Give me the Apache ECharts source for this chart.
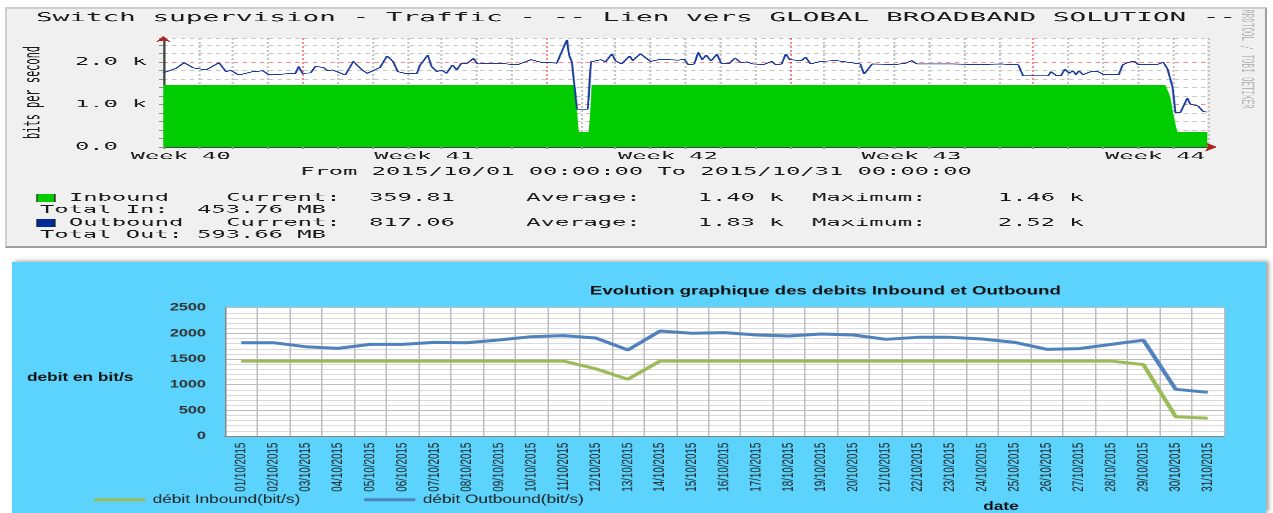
<!DOCTYPE html>
<html>
<head>
<meta charset="utf-8">
<script src="https://cdn.jsdelivr.net/npm/echarts@6/dist/echarts.min.js"></script>
<style>
html,body{margin:0;padding:0;background:#ffffff;width:1273px;height:513px;overflow:hidden;}
#topWrap{position:absolute;left:5px;top:7px;width:1262px;height:241px;overflow:hidden;}
#top{position:absolute;left:0;top:0;width:574px;height:241px;transform:scaleX(2.1986);transform-origin:0 0;}
#topBorder{position:absolute;left:0;top:0;width:1262px;height:241px;box-sizing:border-box;border-left:2px solid #cfcfcf;border-top:2px solid #cfcfcf;border-right:2px solid #9e9e9e;border-bottom:2px solid #9e9e9e;pointer-events:none;}
#botWrap{position:absolute;left:12px;top:262px;width:1254px;height:251px;overflow:hidden;box-shadow:3px -1px 4px rgba(0,0,0,0.35);}
#bot{position:absolute;left:0;top:0;width:836px;height:251px;transform:scaleX(1.5);transform-origin:0 0;}
</style>
</head>
<body>
<div id="topWrap"><div id="top"></div><div id="topBorder"></div></div>
<div id="botWrap"><div id="bot"></div></div>
<script>
// ---------- Top chart (RRDtool) data ----------
const topTitle = 'Switch supervision - Traffic - -- Lien vers GLOBAL BROADBAND SOLUTION --';
const periodText = 'From 2015/10/01 00:00:00 To 2015/10/31 00:00:00';
const yAxisNameTop = 'bits per second';
const watermark = 'RRDTOOL / TOBI OETIKER';
// days since 2015/10/01 00:00
const outDays = [0,0.37,0.6,0.86,1.23,1.6,1.71,1.8,1.94,2.17,
  2.57,2.86,3.03,3.37,3.8,3.89,4.0,4.23,4.37,4.6,
  4.71,4.86,5.23,5.46,5.71,5.86,6.23,6.43,6.6,6.74,
  6.94,7.29,7.37,7.6,7.71,7.86,8.0,8.14,8.31,8.43,
  8.57,8.71,8.91,9.03,9.6,10.17,10.57,10.86,11.31,11.43,
  11.51,11.6,11.66,11.74,11.89,12.2,12.29,12.57,12.71,12.89,
  13.0,13.17,13.4,13.49,13.71,14.0,14.29,14.46,14.8,14.97,
  15.09,15.26,15.37,15.49,15.6,15.74,15.91,16.03,16.26,16.43,
  16.6,16.77,16.94,17.06,17.26,17.49,17.6,17.77,17.89,18.0,
  18.17,18.34,18.46,18.6,18.89,19.11,19.34,19.51,19.86,20.03,
  20.14,20.26,20.37,21.03,21.31,21.51,21.66,22.46,22.51,22.66,
  23.43,24.09,24.57,24.71,25.43,25.51,25.66,25.8,25.91,26.03,
  26.14,26.23,26.31,26.43,26.66,26.74,26.86,27.03,27.46,27.57,
  27.71,27.89,28.03,28.57,28.74,28.86,29.0,29.09,29.23,29.43,
  29.51,29.6,29.74,29.86,29.89,30.0];
const outValues = [1740,1850,1980,1860,1810,1980,2000,1770,1800,1690,
  1770,1790,1700,1710,1730,1890,1730,1740,1890,1870,
  1800,1810,1690,2010,1810,1730,1870,2140,2010,1770,
  1730,1730,1910,2160,1890,1770,1810,1730,1930,1810,
  1970,1950,2080,1950,1970,1930,2050,1990,1970,2200,
  2240,2520,2160,2000,890,890,2000,2050,2000,2190,
  2020,1950,2140,2030,2190,2010,2060,2050,2040,2060,
  1930,1950,2220,2050,2160,2020,2180,1970,1960,2090,
  1980,2000,1950,1930,1940,2010,1930,1950,2190,2050,
  2040,2030,2110,1950,2010,2020,2030,2010,1970,1950,
  1710,1720,1950,1940,1960,2030,1950,1950,1990,1950,
  1940,1950,1930,1670,1670,1770,1680,1680,1830,1730,
  1790,1700,1790,1700,1770,1750,1770,1700,1700,1930,
  1980,2020,1930,1940,1990,1830,1420,800,810,1150,
  1010,980,960,960,830,820];
const inDays = [0,1.5,3,4.5,6,7.5,9,10.5,11.83,11.94,12.23,12.31,13.5,15,16.5,18,19.5,21,22.5,24,25.5,27,28.5,28.8,28.94,29.03,29.14,30];
const inValues = [1450,1460,1455,1460,1450,1460,1455,1460,1455,360,360,1455,1460,1450,1460,1455,1460,1450,1460,1455,1460,1450,1455,1455,1180,750,360,360];
const weekLabels = ['Week 40','Week 41','Week 42','Week 43','Week 44'];
const firstWeekStart = -3; // Monday 2015/09/28 relative to 10/01
const yTickValuesTop = [0,1000,2000];
const yTickLabelsTop = ['0.0  ','1.0 k','2.0 k'];
const legendNames = ['Inbound','Outbound'];
const legendColors = ['#00CC00','#002A97'];
const legendCurrent = ['359.81','817.06'];
const legendAverage = ['1.40 k','1.83 k'];
const legendMaximum = ['1.46 k','2.52 k'];
const totalLabels = ['Total In:','Total Out:'];
const totalValues = ['453.76 MB','593.66 MB'];

// ---------- Bottom chart (Excel) data ----------
const bottomTitle = 'Evolution graphique des debits Inbound et Outbound';
const bottomYName = 'debit en bit/s';
const bottomXName = 'date';
const dates = ['01/10/2015','02/10/2015','03/10/2015','04/10/2015','05/10/2015','06/10/2015','07/10/2015','08/10/2015','09/10/2015','10/10/2015',
  '11/10/2015','12/10/2015','13/10/2015','14/10/2015','15/10/2015','16/10/2015','17/10/2015','18/10/2015','19/10/2015','20/10/2015',
  '21/10/2015','22/10/2015','23/10/2015','24/10/2015','25/10/2015','26/10/2015','27/10/2015','28/10/2015','29/10/2015','30/10/2015','31/10/2015'];
const inboundDaily = [1460,1460,1460,1460,1460,1460,1460,1460,1460,1460,
  1460,1310,1105,1460,1460,1460,1460,1460,1460,1460,
  1460,1460,1460,1460,1460,1460,1460,1460,1390,376,345];
const outboundDaily = [1818,1818,1740,1708,1786,1786,1825,1818,1870,1935,
  1955,1910,1676,2046,2001,2014,1968,1949,1988,1968,
  1884,1923,1923,1890,1825,1689,1702,1786,1867,910,851];
const seriesNames = ['débit Inbound(bit/s)','débit Outbound(bit/s)'];
const seriesColors = ['#9BBB59','#4F81BD'];

// ================= TOP CHART =================
const MONO = 'DejaVu Sans Mono';
const TXT = '#1a1a1a';
const GRAY = '#c6c6c6';
const RED = 'rgba(235,0,0,0.45)';

function weekFormatter(v){
  const k = (v - (firstWeekStart + 3.5)) / 7;
  const r = Math.round(k);
  if (Math.abs(k - r) < 1e-6 && r >= 0 && r < weekLabels.length) return weekLabels[r];
  return '';
}
function yTopFormatter(v){
  const i = yTickValuesTop.indexOf(Math.round(v));
  return (i >= 0 && Math.abs(v - Math.round(v)) < 1e-6) ? yTickLabelsTop[i] : '';
}
function legendLine(i){
  return legendNames[i].padEnd(11) + 'Current:'.padEnd(10) + legendCurrent[i].padEnd(11) +
         'Average:'.padEnd(12) + legendAverage[i].padEnd(8) + 'Maximum:'.padEnd(13) + legendMaximum[i];
}
function totalLine(i){ return totalLabels[i].padEnd(11) + totalValues[i]; }

const topChart = echarts.init(document.getElementById('top'), null, {renderer:'canvas', devicePixelRatio:3});
const hiddenAxisParts = {axisTick:{show:false}, axisLabel:{show:false}, splitLine:{show:false}};
topChart.setOption({
  backgroundColor:'#F0F0F0',
  animation:false,
  title:[
    {text: topTitle, left:'center', top:4, padding:0, textStyle:{fontFamily:MONO, fontSize:12.6, fontWeight:'normal', color:TXT, lineHeight:14}},
    {text: periodText, left:'center', top:159, padding:0, textStyle:{fontFamily:MONO, fontSize:10.8, fontWeight:'normal', color:TXT, lineHeight:12}}
  ],
  grid:{left:69.1, right:27.2, top:31, bottom:101, show:true, backgroundColor:'#ffffff', borderWidth:0},
  xAxis:[
    {type:'value', position:'bottom', min:0, max:30, interval:1,
     axisLine:{show:true, onZero:false, lineStyle:{color:'#404040', width:1}},
     axisTick:{show:true, length:2, lineStyle:{color:'#909090'}},
     axisLabel:{show:false},
     splitLine:{show:true, lineStyle:{color:[GRAY,GRAY,GRAY,GRAY,RED,GRAY,GRAY], type:[2,2], width:1}}},
    {type:'value', position:'bottom', min:0, max:30, interval:0.5,
     axisLine:{show:false}, axisTick:{show:false}, splitLine:{show:false},
     axisLabel:{show:true, margin:4, fontFamily:MONO, fontSize:10.8, color:TXT, formatter:weekFormatter}},
    Object.assign({type:'value', position:'bottom', min:0, max:30,
     axisLine:{show:true, onZero:false, symbol:['none','arrow'], symbolSize:[7,5.5], symbolOffset:[0,4.5], lineStyle:{color:'#b22222', width:0}}}, hiddenAxisParts)
  ],
  yAxis:[
    {type:'value', position:'left', min:0, max:2560, interval:200,
     name: yAxisNameTop, nameLocation:'middle', nameGap:54,
     nameTextStyle:{fontFamily:MONO, fontSize:10.3, color:TXT},
     axisLine:{show:true, onZero:false, lineStyle:{color:'#404040', width:1}},
     axisTick:{show:true, length:2, lineStyle:{color:'#909090'}},
     axisLabel:{margin:7.7, fontFamily:MONO, fontSize:10.8, color:TXT, formatter:yTopFormatter},
     splitLine:{show:true, lineStyle:{color:[RED,GRAY,GRAY,GRAY,GRAY], type:[2,2], width:1}}},
    Object.assign({type:'value', position:'left', min:0, max:2560,
     axisLine:{show:true, onZero:false, symbol:['none','arrow'], symbolSize:[5,6], symbolOffset:[0,2], lineStyle:{color:'#b22222', width:0}}}, hiddenAxisParts)
  ],
  series:[
    {type:'line', name:legendNames[0], xAxisIndex:0, yAxisIndex:0,
     data: inDays.map((d,i)=>[d, inValues[i]]), showSymbol:false, silent:true,
     lineStyle:{width:0}, itemStyle:{color:legendColors[0]},
     areaStyle:{color:legendColors[0], opacity:1}, z:2},
    {type:'line', name:legendNames[1], xAxisIndex:0, yAxisIndex:0,
     data: outDays.map((d,i)=>[d, outValues[i]]), showSymbol:false, silent:true,
     lineStyle:{color:'#1a3a9e', width:0.9}, itemStyle:{color:legendColors[1]}, z:3}
  ],
  graphic:[
    {type:'rect', shape:{x:14.5, y:187, width:8.2, height:8}, style:{fill:legendColors[0], stroke:'#222', lineWidth:0.6}},
    {type:'rect', shape:{x:14.5, y:212, width:8.2, height:8}, style:{fill:legendColors[1], stroke:'#222', lineWidth:0.6}},
    {type:'text', x:29.1, y:191, style:{text:legendLine(0), fontFamily:MONO, fontSize:10.8, fill:TXT, align:'left', verticalAlign:'middle'}},
    {type:'text', x:15.9, y:203, style:{text:totalLine(0), fontFamily:MONO, fontSize:10.8, fill:TXT, align:'left', verticalAlign:'middle'}},
    {type:'text', x:29.1, y:216, style:{text:legendLine(1), fontFamily:MONO, fontSize:10.8, fill:TXT, align:'left', verticalAlign:'middle'}},
    {type:'text', x:15.9, y:228, style:{text:totalLine(1), fontFamily:MONO, fontSize:10.8, fill:TXT, align:'left', verticalAlign:'middle'}},
    {type:'text', x:564.5, y:52, rotation:-Math.PI/2, style:{text:watermark, fontFamily:MONO, fontSize:7.5, fill:'#b8b8b8', align:'center', verticalAlign:'middle'}}
  ]
});

// ================= BOTTOM CHART =================
const SANS = 'Liberation Sans';
const botChart = echarts.init(document.getElementById('bot'), null, {renderer:'canvas', devicePixelRatio:2});
botChart.setOption({
  backgroundColor:'#5CD3FC',
  animation:false,
  title:[
    {text: bottomTitle, left:385.3, top:22, padding:0, textStyle:{fontFamily:SANS, fontSize:12.4, fontWeight:'bold', color:'#111', lineHeight:14}},
    {text: bottomYName, left:10, top:108.7, padding:0, textStyle:{fontFamily:SANS, fontSize:11.5, fontWeight:'bold', color:'#111', lineHeight:14}},
    {text: bottomXName, left:647.5, top:238, padding:0, textStyle:{fontFamily:SANS, fontSize:11.5, fontWeight:'bold', color:'#111', lineHeight:14}}
  ],
  legend:{left:54.7, top:231.7, padding:0, icon:'rect', itemWidth:34, itemHeight:3, itemGap:42.7,
    textStyle:{fontFamily:SANS, fontSize:11.5, color:'#222'}, data:seriesNames},
  grid:{left:142, right:28, top:45.7, bottom:77, show:true, backgroundColor:'#ffffff', borderWidth:0},
  xAxis:{type:'category', data:dates, boundaryGap:true,
    axisLine:{show:true, lineStyle:{color:'#868686'}}, axisTick:{show:false},
    splitLine:{show:true, interval:0, lineStyle:{color:'#bdbdbd', width:1}},
    axisLabel:{interval:0, rotate:90, margin:6.7, fontFamily:SANS, fontSize:9.8, color:'#222'}},
  yAxis:{type:'value', min:0, max:2500, interval:500,
    axisLine:{show:true, lineStyle:{color:'#868686'}}, axisTick:{show:false},
    splitLine:{show:true, lineStyle:{color:'#bdbdbd'}},
    minorTick:{show:false, splitNumber:5},
    minorSplitLine:{show:true, lineStyle:{color:'#dadada'}},
    axisLabel:{margin:12.7, fontFamily:SANS, fontWeight:'bold', fontSize:10.8, color:'#333', formatter:function(v){ return String(v); }}},
  series:[
    {name:seriesNames[0], type:'line', data:inboundDaily, showSymbol:false, silent:true,
     lineStyle:{width:3, color:seriesColors[0]}, itemStyle:{color:seriesColors[0]}},
    {name:seriesNames[1], type:'line', data:outboundDaily, showSymbol:false, silent:true,
     lineStyle:{width:3, color:seriesColors[1]}, itemStyle:{color:seriesColors[1]}}
  ]
});
</script>
</body>
</html>
